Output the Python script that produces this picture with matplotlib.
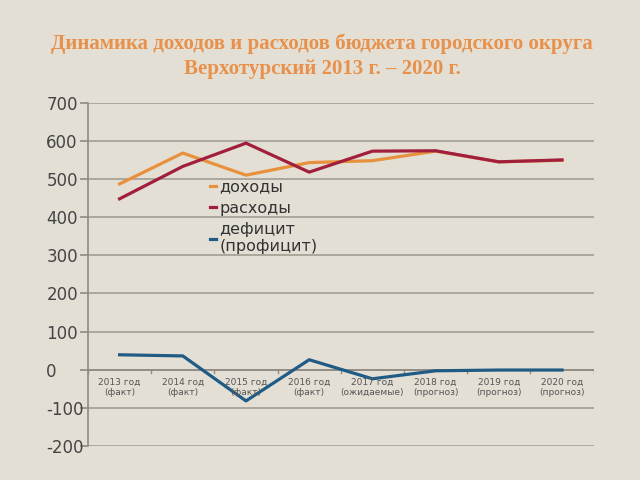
import matplotlib.pyplot as plt

plt.rcParams['axes.unicode_minus'] = False

years = ['2013 год\n(факт)', '2014 год\n(факт)', '2015 год\n(факт)', '2016 год\n(факт)',
         '2017 год\n(ожидаемые)', '2018 год\n(прогноз)', '2019 год\n(прогноз)', '2020 год\n(прогноз)']
income = [487, 568, 510, 543, 548, 573, 545, 549]
expense = [448, 533, 594, 518, 573, 574, 545, 550]
deficit = [39, 36, -82, 26, -24, -3, -1, -1]
yticks = list(range(-200, 701, 100))

bg = '#e4dfd5'
fig = plt.figure(figsize=(6.4, 4.8), dpi=100, facecolor=bg)
ax = fig.add_axes([0.1375, 0.071, 0.79, 0.715], facecolor=bg)

x = range(len(years))
ax.plot(x, income, color='#e8913c', lw=2.3, label='доходы')
ax.plot(x, expense, color='#a11f3c', lw=2.3, label='расходы')
ax.plot(x, deficit, color='#1f5b85', lw=2.3, label='дефицит\n(профицит)')

ax.set_xlim(-0.5, len(years) - 0.5)
ax.set_ylim(-200, 700)
ax.set_yticks(yticks)
ax.set_yticklabels([str(v) for v in yticks], ha='left')
ax.yaxis.grid(True, color='#a39d94', lw=1.2)
ax.set_axisbelow(True)
for s in ['top', 'right', 'bottom']:
    ax.spines[s].set_visible(False)
ax.spines['left'].set_color('#8f8a82')
ax.spines['left'].set_linewidth(1.2)
ax.tick_params(axis='y', colors='#8f8a82', length=6, width=1.2, labelsize=12,
               labelcolor='#444444', pad=24)
ax.set_xticks([])

# category axis at zero
ax.axhline(0, color='#8f8a82', lw=1.2, zorder=1)
for i in range(len(years) + 1):
    ax.plot([i - 0.5, i - 0.5], [0, -10], color='#8f8a82', lw=1, zorder=1)
for i, lab in enumerate(years):
    ax.text(i, -22, lab, ha='center', va='top', fontsize=6.5, color='#555555', linespacing=1.1)

leg = ax.legend(loc='upper left', bbox_to_anchor=(0.228, 0.795), frameon=False, fontsize=11.5,
                handlelength=0.4, handletextpad=0.2, labelspacing=0.4, borderaxespad=0)
for t in leg.get_texts():
    t.set_color('#333333')
    t.set_linespacing(1.15)

fig.text(0.503, 0.93, 'Динамика доходов и расходов бюджета городского округа\nВерхотурский 2013 г. – 2020 г.',
         ha='center', va='top', fontsize=15, fontweight='bold', family='Liberation Serif',
         color='#e8914a', linespacing=1.35)

fig.savefig('out.png', facecolor=bg)
